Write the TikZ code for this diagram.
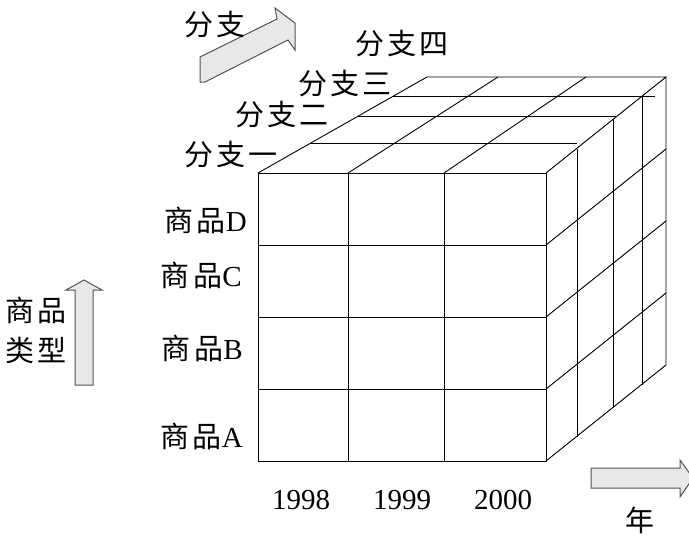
\documentclass[tikz,border=0pt]{standalone}
\usepackage{fontspec}
\setmainfont{Liberation Serif}
\newfontfamily\cjk{Noto Sans CJK SC}[LetterSpace=12]
\usepackage{tikz}
\usetikzlibrary{calc, positioning}
\tikzstyle{lbl} = [font=\fontsize{29}{40}\selectfont, inner sep=0pt, align=center]
\tikzstyle{grid} = [line width=0.9pt, black]
\tikzstyle{block} = [fill=gray!18, draw=gray!65!black, line width=1pt, line join=miter]

\begin{document}
\begin{tikzpicture}[x=1pt, y=-1pt]
	\useasboundingbox (0,0) rectangle (689,536);
	% front face
	\draw[grid] (258,173) rectangle (546,461);
	\draw[grid] (348,173) -- (348,461);
	\draw[grid] (444,173) -- (444,461);
	\draw[grid] (258,245) -- (546,245);
	\draw[grid] (258,317) -- (546,317);
	\draw[grid] (258,389) -- (546,389);
	% top face
	\draw[grid] (258,173) -- (427,77) -- (666,77) -- (546,173);
	\draw[grid] (348,173) -- (498,77);
	\draw[grid] (444,173) -- (586,77);
	\draw[grid] (311,143) -- (577,143);
	\draw[grid] (358,116) -- (617,116);
	\draw[grid] (393,96) -- (655,96);
	% right face
	\draw[grid] (546,461) -- (666,365) -- (666,77);
	\draw[grid] (577,149) -- (577,437);
	\draw[grid] (613,119) -- (613,407);
	\draw[grid] (642,95) -- (642,385);
	\draw[grid] (546,245) -- (666,149);
	\draw[grid] (546,317) -- (666,221);
	\draw[grid] (546,389) -- (666,293);

	% axis arrows
	\draw[block] (200,57) -- (277,19) -- (275,8) -- (295,23) -- (295,50) -- (288,40) -- (205,82) -- (200,82) -- cycle;
	\draw[block] (75,385) -- (75,290) -- (66,290) -- (84,280) -- (102,290) -- (93,290) -- (93,385) -- cycle;
	\draw[block] (591,468) -- (680,468) -- (680,460) -- (693,478) -- (680,497) -- (680,488) -- (591,488) -- cycle;

	% labels
	\node[lbl] (branch) at (215,25) {\cjk 分支};
	\node[lbl] (br1) at (231,155) {\cjk 分支一};
	\node[lbl] (br2) at (282,115) {\cjk 分支二};
	\node[lbl] (br3) at (345,84) {\cjk 分支三};
	\node[lbl] (br4) at (402,44) {\cjk 分支四};
	\node[lbl, anchor=east] (prodD) at (247,220) {{\cjk 商品}D};
	\node[lbl, anchor=east] (prodC) at (242,275) {{\cjk 商品}C};
	\node[lbl, anchor=east] (prodB) at (243,348) {{\cjk 商品}B};
	\node[lbl, anchor=east] (prodA) at (243,436) {{\cjk 商品}A};
	\node[lbl] (prodType) at (36,330) {\cjk 商品\\\cjk 类型};
	\node[lbl] (y1998) at (301,500) {1998};
	\node[lbl] (y1999) at (402,500) {1999};
	\node[lbl] (y2000) at (503,500) {2000};
	\node[lbl] (year) at (640,520) {\cjk 年};
\end{tikzpicture}
\end{document}
